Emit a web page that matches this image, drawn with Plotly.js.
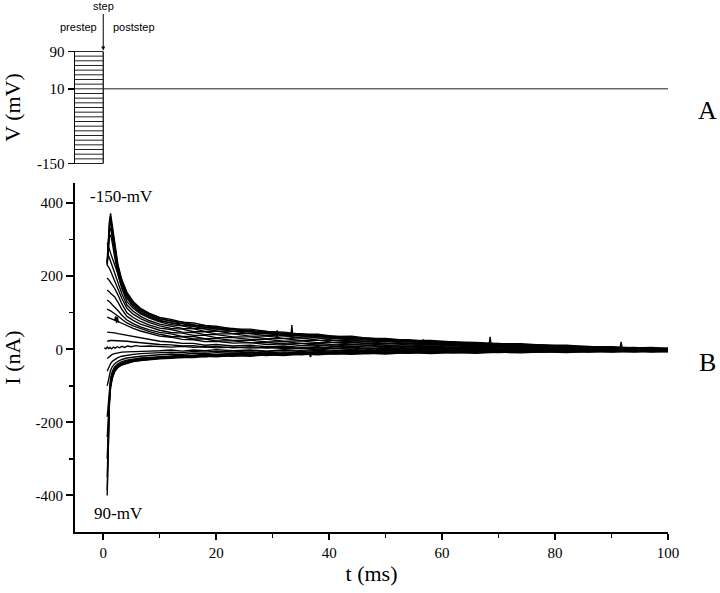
<!DOCTYPE html>
<html><head><meta charset="utf-8">
<script src="https://cdn.plot.ly/plotly-3.0.1.min.js"></script>
<style>html,body{margin:0;padding:0;background:#fff}#chart{width:720px;height:593px}</style>
</head><body><div id="chart"></div>
<script>
// ---------- Panel A: voltage protocol ----------
const stepVoltages = [-150,-140,-130,-120,-110,-100,-90,-80,-70,-60,-50,-40,-30,-20,-10,0,10,20,30,40,50,60,70,80,90];
const prestepWindow = [-5, 0];
const poststepWindow = [0, 100];
const holdingPotential = 10;
const vTickVals = [-150, 10, 90];
const vTickText = ['-150', '10', '90'];

// ---------- Panel B: tail currents (nA) ----------
const iTickVals = [-400, -200, 0, 200, 400];
const iTickText = ['-400', '-200', '0', '200', '400'];
const tTickVals = [0, 20, 40, 60, 80, 100];

const tailTime = [0.7,0.9,1.1,1.3,1.6,2.0,2.6,3.3,4.2,5.3,6.6,8.2,
  10,12,14,16,18,20,23,26,29,32,35,38,41,44,47,50,54,58,62,66,70,74,78,82,86,90,94,97,100];
const I_m150 = [240,300,352,372,338,290,232,190,156,131,112,98, 87,82,74,72,65,63,56,55,49,47,41,41,35,36,30,30,24,24,20,19,15,15,11,11,7,7,4,5,2];
const I_m140 = [236,294,344,361,330,283,227,186,153,128,110,96, 84,77,75,66,65,58,57,50,49,43,43,37,36,31,31,26,26,20,21,15,16,11,12,8,8,4,5,2,3];
const I_m130 = [232,288,334,348,320,276,221,182,149,125,107,94, 83,78,70,67,60,60,53,52,45,45,39,39,32,33,27,28,22,22,17,18,12,13,8,10,5,6,2,4,1];
const I_m120 = [230,282,322,333,308,266,214,176,144,121,104,91, 80,72,70,62,61,55,54,47,46,40,40,34,33,28,29,24,24,18,19,14,15,10,11,6,7,2,4,0,2];
const I_m110 = [234,278,308,313,292,254,205,169,139,117,100,88, 77,73,65,63,56,56,49,48,42,42,36,36,29,30,25,26,20,20,15,16,11,12,7,8,3,5,0,2,0];
const I_m100 = [291,284,274,263,250,235,206,166,130,112,97,85, 75,67,64,57,56,50,49,43,43,37,37,31,30,25,26,21,21,16,17,12,13,8,9,4,6,1,3,-1,1];
const I_m90  = [264,258,250,241,228,212,186,152,121,104,90,78, 69,64,57,56,49,50,43,43,37,37,31,31,24,25,20,22,16,17,12,13,9,10,5,7,2,4,-1,2,-1];
const I_m80  = [231,227,221,214,203,190,167,139,112,96,84,73, 64,57,55,48,48,42,42,36,36,30,31,25,24,20,21,16,17,12,13,9,11,6,8,3,5,1,2,-2,1];
const I_m70  = [195,192,188,183,176,167,149,124,100,87,76,66, 58,54,47,46,40,40,34,34,29,29,24,25,18,20,15,17,12,13,9,10,6,8,4,6,1,3,-1,1,-2];
const I_m60  = [162,160,157,153,149,144,129,109,90,79,69,60, 52,46,44,38,38,32,32,27,27,22,23,18,18,14,15,11,12,8,10,5,8,4,6,2,4,0,1,-3,0];
const I_m50  = [135,133,130,127,122,116,106,93,80,70,61,53, 46,42,35,35,29,30,24,25,20,21,16,17,12,14,10,12,7,9,5,7,4,6,2,4,0,2,-2,0,-3];
const I_m40  = [110,109,107,105,102,98,91,82,72,64,56,48, 41,35,34,28,28,23,23,18,19,14,16,11,12,8,10,6,8,4,6,3,5,1,4,0,2,-2,0,-4,-1];
const I_m30  = [88,87,86,84,82,80,76,71,64,57,50,43, 36,33,27,26,21,22,17,18,13,15,10,12,7,9,6,8,4,6,2,5,1,4,0,2,-1,1,-3,-1,-3];
const I_m20  = [47,47,46,46,45,45,43,41,38,34,30,26, 22,20,16,16,11,13,9,11,7,9,5,7,3,6,2,5,1,4,0,3,-1,2,-1,1,-2,0,-4,-1,-4];
const I_m10  = [22,23,23,24,24,24,23,23,22,20,18,15, 13,12,9,10,6,8,4,7,3,6,2,5,1,4,0,3,0,2,-1,2,-2,1,-2,0,-3,-1,-4,-2,-4];
const I_p10  = [-25,-22,-19,-16,-14,-12,-10,-8,-7,-6,-5,-5, -4,-2,-5,-2,-4,-1,-4,-2,-5,-1,-3,0,-3,-1,-4,0,-3,-1,-4,0,-3,-1,-4,0,-3,-1,-4,-2,-3];
const I_p20  = [-60,-52,-45,-39,-33,-28,-23,-19,-16,-14,-12,-11, -10,-8,-9,-6,-8,-5,-7,-4,-6,-3,-6,-3,-5,-2,-5,-2,-4,-1,-4,-2,-5,-1,-4,-2,-5,-1,-4,-2,-4];
const I_p30  = [-100,-85,-70,-58,-48,-40,-33,-28,-24,-21,-19,-17, -15,-13,-14,-11,-12,-9,-11,-8,-10,-7,-9,-6,-8,-5,-7,-4,-6,-4,-6,-3,-5,-3,-5,-2,-4,-2,-4,-2,-4];
const I_p40  = [-185,-150,-105,-78,-61,-48,-40,-34,-30,-27,-24,-22, -20,-19,-16,-17,-13,-15,-11,-13,-10,-11,-8,-10,-7,-9,-6,-8,-5,-7,-4,-6,-3,-6,-3,-5,-2,-5,-2,-4,-3];
const I_p50  = [-240,-180,-118,-86,-67,-52,-43,-37,-32,-29,-26,-24, -22,-21,-18,-19,-15,-17,-13,-15,-12,-13,-10,-11,-8,-10,-7,-9,-6,-8,-5,-7,-4,-7,-4,-6,-3,-5,-3,-5,-4];
const I_p60  = [-300,-205,-128,-92,-71,-55,-45,-39,-34,-30,-27,-25, -23,-20,-21,-17,-19,-15,-17,-13,-15,-11,-13,-10,-11,-8,-10,-7,-9,-6,-8,-5,-8,-4,-7,-4,-6,-3,-6,-4,-5];
const I_p70  = [-350,-225,-138,-98,-75,-58,-47,-41,-36,-32,-29,-26, -24,-23,-20,-21,-17,-19,-15,-17,-14,-15,-11,-14,-10,-12,-8,-11,-7,-10,-6,-9,-6,-8,-5,-7,-4,-7,-4,-6,-5];
const I_p80  = [-385,-240,-145,-102,-78,-60,-49,-42,-37,-33,-30,-27, -25,-22,-23,-19,-21,-17,-19,-15,-17,-13,-15,-12,-13,-11,-12,-9,-11,-8,-10,-8,-9,-7,-8,-6,-8,-5,-7,-5,-6];
const I_p90  = [-400,-250,-150,-105,-80,-62,-50,-43,-38,-34,-31,-28, -26,-25,-22,-23,-19,-21,-17,-19,-15,-17,-13,-15,-12,-14,-11,-13,-9,-12,-9,-11,-8,-10,-7,-9,-6,-8,-6,-8,-7];
// trace near zero (own sampling)
const zeroTime = [0.2,0.45,0.7,0.95,1.2,1.5,1.8,2.1,2.5,2.9,3.3,3.8,4.3,5.0,5.8,6.6,8.2,
  10,12,14,16,18,20,23,26,29,32,35,38,41,44,47,50,54,58,62,66,70,74,78,82,86,90,94,97,100];
const I_0 = [4,1,6,2,5,1,6,3,7,4,8,5,9,7,10,8,9, 8,6,8,5,7,4,6,3,5,2,4,1,3,0,2,-1,1,-2,0,-3,0,-2,-1,-3,-1,-4,-2,-4,-3];
// artefact spikes
const spikeTime = [2.0,2.2,2.35,2.5,2.65,2.8,null,30.6,30.8,31.0,null,33.2,33.4,33.6,null,36.5,36.7,36.9,null,56.5,56.7,56.9,null,68.3,68.5,68.7,null,91.5,91.7,91.9];
const spikeCurrent = [79,90,72,89,74,77,null,30,52,30,null,28,66,28,null,-12,-21,-12,null,15,27,15,null,11,34,11,null,3,20,3];

const tailSeries = [I_m150,I_m140,I_m130,I_m120,I_m110,I_m100,I_m90,I_m80,I_m70,I_m60,I_m50,I_m40,I_m30,I_m20,I_m10,
                    I_p10,I_p20,I_p30,I_p40,I_p50,I_p60,I_p70,I_p80,I_p90];

const ink = '#000';
const serif = 'Liberation Serif, Times New Roman, serif';
const sans = 'Liberation Sans, Arial, sans-serif';
const traceW = 1.35;

const traces = [];
// panel A
const sx = [], sy = [];
stepVoltages.forEach(v => { sx.push(prestepWindow[0], prestepWindow[1], null); sy.push(v, v, null); });
traces.push({x: sx, y: sy, xaxis: 'x2', yaxis: 'y2', mode: 'lines', line: {color: '#222', width: 1}, hoverinfo: 'skip'});
traces.push({x: [prestepWindow[1], prestepWindow[1]], y: [Math.min(...stepVoltages), Math.max(...stepVoltages)],
  xaxis: 'x2', yaxis: 'y2', mode: 'lines', line: {color: '#111', width: 1.3}, hoverinfo: 'skip'});
traces.push({x: poststepWindow, y: [holdingPotential, holdingPotential], xaxis: 'x2', yaxis: 'y2',
  mode: 'lines', line: {color: '#222', width: 1}, hoverinfo: 'skip'});
// panel B
tailSeries.forEach(s => traces.push({x: tailTime, y: s, mode: 'lines', line: {color: ink, width: traceW}, hoverinfo: 'skip'}));
traces.push({x: zeroTime, y: I_0, mode: 'lines', line: {color: ink, width: traceW}, hoverinfo: 'skip'});
traces.push({x: spikeTime, y: spikeCurrent, mode: 'lines', line: {color: ink, width: traceW}, hoverinfo: 'skip', connectgaps: false});

const axBase = {showline: true, linecolor: ink, linewidth: 2, ticks: 'outside', tickcolor: ink, tickwidth: 2,
  showgrid: false, zeroline: false, tickfont: {family: serif, size: 15, color: ink}};

const ann = (x, y, text, size, fam, xref, yref) => ({xref: xref || 'paper', yref: yref || 'paper', x: x, y: y, text: text,
  showarrow: false, xanchor: 'center', yanchor: 'middle', font: {family: fam, size: size, color: ink}});

const layout = {
  width: 720, height: 593, showlegend: false,
  paper_bgcolor: '#fff', plot_bgcolor: '#fff',
  margin: {l: 75, r: 52, t: 51, b: 61},
  xaxis: Object.assign({}, axBase, {domain: [0, 1], range: [-5, 100], anchor: 'y', ticklen: 6,
    tickmode: 'array', tickvals: tTickVals,
    minor: {tickmode: 'array', tickvals: [10, 30, 50, 70, 90], ticks: 'outside', ticklen: 4, tickwidth: 1.5, tickcolor: ink},
    title: {text: 't (ms)', font: {family: serif, size: 22, color: ink}, standoff: 6}}),
  yaxis: Object.assign({}, axBase, {domain: [0, 0.7256], range: [-500, 455], anchor: 'x', ticklen: 7,
    tickmode: 'array', tickvals: iTickVals, ticktext: iTickText,
    minor: {tickmode: 'array', tickvals: [-300, -100, 100, 300], ticks: 'outside', ticklen: 4, tickwidth: 1.5, tickcolor: ink},
    title: {text: 'I (nA)', font: {family: serif, size: 22, color: ink}, standoff: 14}}),
  xaxis2: {domain: [0, 1], range: [-5, 100], anchor: 'y2', visible: false},
  yaxis2: Object.assign({}, axBase, {domain: [0.7651, 1], range: [-151, 91], anchor: 'x2', ticklen: 6,
    linewidth: 1.5, tickwidth: 1.5,
    tickmode: 'array', tickvals: vTickVals, ticktext: vTickText,
    title: {text: 'V (mV)', font: {family: serif, size: 22, color: ink}, standoff: 14}}),
  annotations: [
    ann(3.2, 418, '-150-mV', 17, serif, 'x', 'y'),
    ann(2.7, -450, '90-mV', 17, serif, 'x', 'y'),
    ann(1.066, 0.877, 'A', 26, serif),
    ann(1.066, 0.353, 'B', 26, serif),
    ann(0.0067, 1.05, 'prestep', 11, sans),
    ann(0.0995, 1.05, 'poststep', 11, sans),
    {xref: 'x2', yref: 'y2', x: 0, y: 90, text: 'step', showarrow: true, ax: 0, ay: -45, arrowhead: 2, arrowsize: 0.8,
      arrowwidth: 1, arrowcolor: ink, standoff: 1, font: {family: sans, size: 11, color: ink}}
  ]
};

Plotly.newPlot('chart', traces, layout, {staticPlot: true, displayModeBar: false});
</script></body></html>
